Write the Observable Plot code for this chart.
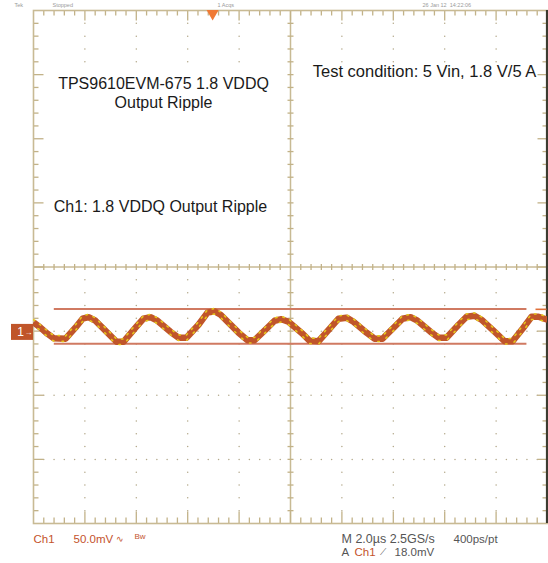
<!DOCTYPE html>
<html>
<head>
<meta charset="utf-8">
<script src="https://cdn.jsdelivr.net/npm/d3@7"></script>
<script src="https://cdn.jsdelivr.net/npm/@observablehq/plot@0.6"></script>
<style>
  html, body { margin: 0; padding: 0; background: #ffffff; }
  #chart svg { display: block; }
</style>
</head>
<body>
<div id="chart"></div>
<script>
// ---- Scope settings (2.0 µs/div, 50.0 mV/div, ch1 ground ≈1 div below centre) ----
const xDomain = [-10, 10];          // µs (10 divisions)
const yDomain = [-149, 251];        // mV (8 divisions of 50 mV)
const voltsPerDiv = 50;
const timePerDiv = 2;

// ---- Ch1 output ripple trace ----
const timeUs = [-10.0, -9.73, -9.46, -9.22, -8.75, -8.37, -8.09, -7.86, -7.59, -7.16,
  -6.77, -6.50, -6.03, -5.72, -5.45, -5.18, -4.67, -4.36, -4.05, -3.58,
  -3.23, -2.96, -2.72, -2.02, -1.67, -1.40, -0.93, -0.62, -0.35, -0.08,
  0.47, 0.74, 1.09, 1.56, 1.87, 2.18, 2.45, 2.96, 3.27, 3.58,
  4.05, 4.36, 4.67, 4.94, 5.45, 5.76, 6.07, 6.54, 6.85, 7.16,
  7.43, 7.98, 8.33, 8.64, 9.03, 9.38, 9.65, 10.0];
const ch1mV = [7.8, 3.7, -1.0, -4.5, -4.9, 3.7, 10.7, 11.9, 9.1, 0.5,
  -7.3, -7.3, 3.7, 10.7, 11.9, 9.1, 0.5, -4.1, -4.1, 6.0,
  15.4, 16.5, 13.8, -0.2, -6.1, -6.1, 2.9, 9.1, 10.3, 8.3,
  -1.0, -6.5, -6.9, 3.7, 10.7, 11.5, 8.3, -0.2, -4.9, -4.9,
  4.4, 10.7, 11.9, 9.1, 0.5, -4.1, -4.1, 6.0, 12.2, 13.0,
  9.9, -0.2, -6.9, -6.9, 2.9, 12.2, 12.2, 9.9];

// ---- Cursors and trigger ----
const cursorLevelsMv = [18.2, -8.8];
const cursorSpanUs = [-9.21, 9.18];
const triggerLevelMv = 18.0;
const triggerTimeUs = -3.03;

// ---- Texts ----
const titleLines = ["TPS9610EVM-675 1.8 VDDQ", "Output Ripple"];
const conditionText = "Test condition: 5 Vin, 1.8 V/5 A";
const channelText = "Ch1: 1.8 VDDQ Output Ripple";
const statusTexts = ["Tek", "Stopped", "1 Acqs", "26 Jan 12  14:22:06"];
const statusOffsets = [-19, 19, 184, 389];
const bottomLabels = [
  {t: "Ch1", c: "ch", dx: 0, row: 0, fs: 11.5},
  {t: "50.0mV", c: "ch", dx: 40, row: 0, fs: 11.5},
  {t: "∿", c: "ch", dx: 82, row: 0, fs: 9},
  {t: "Bw", c: "chs", dx: 101, row: 0, fs: 8},
  {t: "M 2.0µs 2.5GS/s", c: "g", dx: 308, row: 0, fs: 12.5},
  {t: "400ps/pt", c: "g", dx: 420, row: 0, fs: 11.5},
  {t: "A", c: "g", dx: 308, row: 1, fs: 11.5},
  {t: "Ch1", c: "ch", dx: 321, row: 1, fs: 11.5},
  {t: "⟋", c: "g", dx: 346, row: 1, fs: 9},
  {t: "18.0mV", c: "g", dx: 361, row: 1, fs: 11.5}
];

// ---- Geometry helpers ----
const W = 548, H = 563, mL = 33, mR = 1, mT = 10, mB = 40;
const pxX = (xDomain[1] - xDomain[0]) / (W - mL - mR);   // µs per px
const pxY = (yDomain[1] - yDomain[0]) / (H - mT - mB);   // mV per px
const yc = (yDomain[0] + yDomain[1]) / 2;

const trace = timeUs.map((t, i) => ({t, v: ch1mV[i]}));

const minorX = d3.range(0, 51).map(i => xDomain[0] + i * timePerDiv / 5);
const minorY = d3.range(0, 41).map(i => yDomain[0] + i * voltsPerDiv / 5);
const isMajorX = x => Math.abs(Math.round(x / timePerDiv) * timePerDiv - x) < 1e-6;
const isMajorY = y => Math.abs(Math.round((y - yc) / voltsPerDiv) * voltsPerDiv - (y - yc)) < 1e-6;
const majorX = minorX.filter(x => isMajorX(x) && x > xDomain[0] && x < xDomain[1] && Math.abs(x) > 1e-6);
const majorY = minorY.filter(y => isMajorY(y) && y > yDomain[0] && y < yDomain[1] && Math.abs(y - yc) > 1e-6);

// upper half of the screen is covered by the annotation text boxes
const boxTop = yDomain[1] - 54 * pxY;
const hidden = (x, y) => y > yc + 3 * pxY && y < boxTop;

const dots = [];
for (const x of majorX) for (const y of minorY) if (y > yDomain[0] && y < yDomain[1] && !hidden(x, y)) dots.push({x, y});
for (const y of majorY) for (const x of minorX) if (x > xDomain[0] && x < xDomain[1] && !isMajorX(x) && !hidden(x, y)) dots.push({x, y});

const ticks = [];
for (const x of minorX.slice(1, -1)) {
  const L = (isMajorX(x) ? 10 : 5);
  ticks.push({x1: x, x2: x, y1: yDomain[1], y2: yDomain[1] - L * pxY});
  ticks.push({x1: x, x2: x, y1: yDomain[0], y2: yDomain[0] + (isMajorX(x) ? 12 : 6) * pxY});
  if (Math.abs(x) > 1e-6) ticks.push({x1: x, x2: x, y1: yc - 3 * pxY, y2: yc + 3 * pxY});
}
for (const y of minorY.slice(1, -1)) {
  const L = (isMajorY(y) ? 10 : 5);
  ticks.push({x1: xDomain[0], x2: xDomain[0] + L * pxX, y1: y, y2: y});
  ticks.push({x1: xDomain[1], x2: xDomain[1] - L * pxX, y1: y, y2: y});
  if (Math.abs(y - yc) > 1e-6) ticks.push({x1: -3 * pxX, x2: 3 * pxX, y1: y, y2: y});
}

const tan = "#c8ba94";
const chColor = "#c0552a";
const chText = "#c4532c";

const plot = Plot.plot({
  width: W, height: H,
  marginLeft: mL, marginRight: mR, marginTop: mT, marginBottom: mB,
  x: {domain: xDomain, axis: null},
  y: {domain: yDomain, axis: null},
  style: {fontFamily: "'Liberation Sans', Arial, sans-serif", background: "#ffffff"},
  marks: [
    // grid dots
    Plot.dot(dots, {x: "x", y: "y", r: 0.75, fill: "#b3a88a", stroke: null}),
    // centre cross
    Plot.ruleX([0], {stroke: tan, strokeWidth: 1.5}),
    Plot.ruleY([yc], {stroke: tan, strokeWidth: 1.5}),
    Plot.link(ticks, {x1: "x1", x2: "x2", y1: "y1", y2: "y2", stroke: "#c2b288", strokeWidth: 1.3}),
    Plot.frame({stroke: tan, strokeWidth: 1.6}),
    Plot.ruleX([xDomain[1]], {stroke: "#3c3b30", strokeWidth: 2.2, dx: -0.5}),
    // cursors
    Plot.link(cursorLevelsMv, {x1: cursorSpanUs[0], x2: cursorSpanUs[1], y1: d => d, y2: d => d, stroke: "#d07a62", strokeWidth: 2}),
    // trace
    Plot.line(trace, {x: "t", y: "v", stroke: chColor, strokeWidth: 6.5, strokeLinejoin: "round", strokeLinecap: "butt", clip: true}),
    Plot.line(trace, {x: "t", y: "v", stroke: "#e6c81e", strokeWidth: 1.6, strokeDasharray: "1.5 6", dy: -2.8, clip: true}),
    Plot.line(trace, {x: "t", y: "v", stroke: "#e6c81e", strokeWidth: 1.6, strokeDasharray: "1.5 8", strokeDashoffset: 4, dy: 2.8, clip: true}),
    // channel ground marker
    Plot.rect([0], {x1: xDomain[0] - 22 * pxX, x2: xDomain[0], y1: d => d - 8 * pxY, y2: d => d + 8 * pxY, fill: chColor}),
    Plot.text(["1"], {frameAnchor: "left", y: () => 0, dx: -13, fill: "#ffffff", fontSize: 12, textAnchor: "middle"}),
    Plot.text(["→"], {frameAnchor: "left", y: () => 0, dx: -5, fill: "#ffffff", fontSize: 8, textAnchor: "middle"}),
    // trigger markers
    Plot.dot([triggerTimeUs], {x: d => d, frameAnchor: "top", dy: 3, r: 4.5, symbol: "triangle", rotate: 180, fill: "#f07a35", stroke: null}),
    Plot.link([triggerLevelMv], {x1: xDomain[1] - 12 * pxX, x2: xDomain[1] - 1 * pxX, y1: d => d, y2: d => d, stroke: "#e0703a", strokeWidth: 1.6}),
    // annotations
    Plot.text([titleLines[0]], {frameAnchor: "top-left", dx: 130, dy: 73, fontSize: 16, fill: "#1a1a1a", textAnchor: "middle", lineAnchor: "middle"}),
    Plot.text([titleLines[1]], {frameAnchor: "top-left", dx: 130, dy: 92, fontSize: 16, fill: "#1a1a1a", textAnchor: "middle", lineAnchor: "middle"}),
    Plot.text([conditionText], {frameAnchor: "top-left", dx: 391, dy: 61, fontSize: 16.5, fill: "#1a1a1a", textAnchor: "middle", lineAnchor: "middle"}),
    Plot.text([channelText], {frameAnchor: "top-left", dx: 127, dy: 196, fontSize: 16, fill: "#1a1a1a", textAnchor: "middle", lineAnchor: "middle"}),
    // status line
    ...statusTexts.map((s, i) => Plot.text([s], {frameAnchor: "top-left", dx: statusOffsets[i], dy: -5, fontSize: 5.5, fill: "#9a9a9a", textAnchor: "start", lineAnchor: "middle"})),
    // bottom readouts
    ...bottomLabels.map(b => Plot.text([b.t], {
      frameAnchor: "bottom-left", dx: b.dx, dy: (b.row ? 29 : 15.5) - (b.c === "chs" ? 3 : 0),
      fontSize: b.fs, fill: b.c === "g" ? "#555555" : chText,
      textAnchor: "start", lineAnchor: "middle"
    }))
  ]
});
document.getElementById("chart").appendChild(plot);
</script>
</body>
</html>
